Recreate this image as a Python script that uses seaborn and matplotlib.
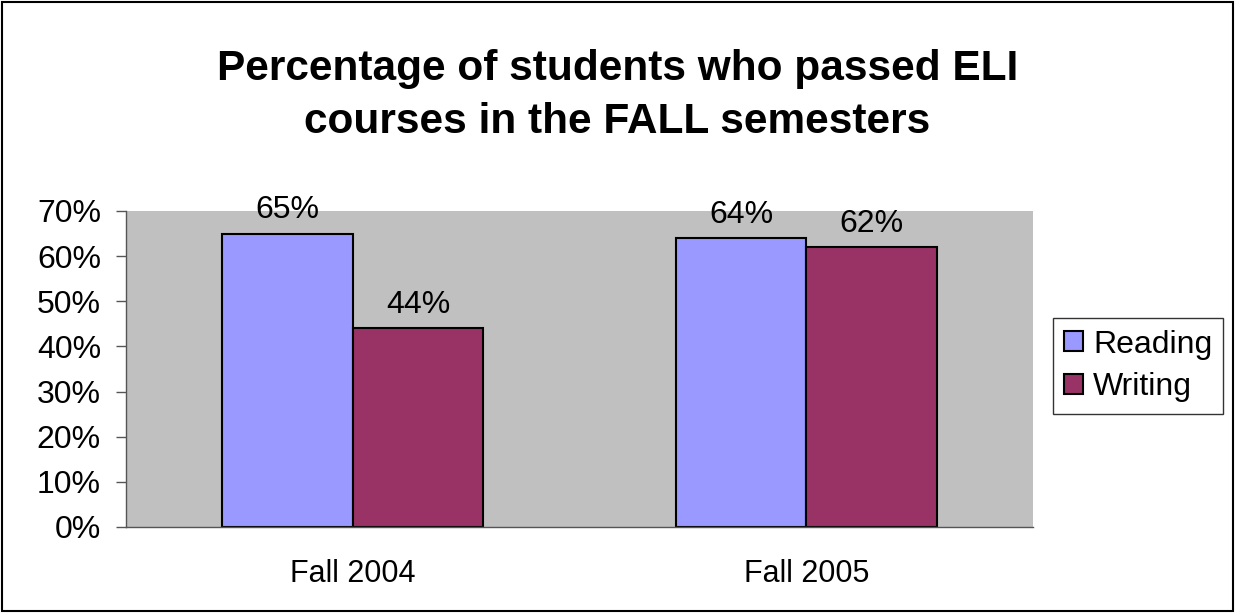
import pandas as pd
import matplotlib.pyplot as plt
import seaborn as sns
from matplotlib.patches import Rectangle

# Values
semesters = ["Fall 2004", "Fall 2005"]
courses = ["Reading", "Writing"]
reading_pct = [65, 64]
writing_pct = [44, 62]
title_lines = ["Percentage of students who passed ELI",
               "courses in the FALL semesters"]

colors = {"Reading": "#9999FF", "Writing": "#993366"}


def main():
    df = pd.DataFrame({
        "semester": semesters * 2,
        "course": ["Reading"] * len(semesters) + ["Writing"] * len(semesters),
        "pct": reading_pct + writing_pct,
    })

    sns.set_style("white")
    plt.rcParams["font.family"] = ["Liberation Sans", "DejaVu Sans"]
    plt.rcParams["text.color"] = "black"
    plt.rcParams["xtick.color"] = "black"
    plt.rcParams["ytick.color"] = "black"

    fig = plt.figure(figsize=(12.35, 6.13), dpi=100)
    fig.patch.set_facecolor("white")
    ax = fig.add_axes([126 / 1235, 86 / 613, 907 / 1235, 316 / 613])

    sns.barplot(data=df, x="semester", y="pct", hue="course",
                hue_order=courses, palette=colors, width=0.576,
                edgecolor="black", linewidth=1.5, saturation=1,
                ax=ax)

    ax.set_facecolor("#C0C0C0")
    ax.set_ylim(0, 70)
    ax.set_xlim(-0.5, 1.5)
    ax.set_yticks(range(0, 71, 10))
    ax.set_yticklabels([f"{v}%" for v in range(0, 71, 10)], fontsize=23)
    ax.set_xticks([0, 1])
    ax.set_xticklabels(semesters, fontsize=22)
    ax.set_xticks([-0.5, 0.5, 1.5], minor=True)
    ax.tick_params(axis="x", which="major", length=0, pad=23)
    ax.tick_params(axis="x", which="minor", length=7, width=1, color="#555555")
    ax.tick_params(axis="y", length=7, width=1, color="#555555", pad=11, left=True)
    ax.set_xlabel("")
    ax.set_ylabel("")

    for side in ["top", "right"]:
        ax.spines[side].set_visible(False)
    for side in ["left", "bottom"]:
        ax.spines[side].set_color("#555555")
        ax.spines[side].set_linewidth(1)

    for cont in ax.containers:
        ax.bar_label(cont, labels=[f"{v:.0f}%" for v in cont.datavalues],
                     padding=6, fontsize=23)

    handles, labels = ax.get_legend_handles_labels()
    ax.legend(handles, labels, loc="center left",
              bbox_to_anchor=(1053 / 1235, 1 - 366 / 613),
              bbox_transform=fig.transFigure,
              fontsize=23, frameon=True, fancybox=False, edgecolor="black",
              handlelength=0.6, handleheight=0.6, handletextpad=0.3,
              borderpad=0.35, labelspacing=0.4, borderaxespad=0)
    ax.get_legend().get_frame().set_linewidth(1)

    # Two title lines placed on their baselines
    for line, base_y in zip(title_lines, [80, 133]):
        fig.text(0.5, 1 - base_y / 613, line, ha="center", va="baseline",
                 fontsize=30.5, fontweight="bold")

    fig.patches.append(Rectangle((0.002, 0.003), 0.996, 0.994,
                                 transform=fig.transFigure, fill=False,
                                 edgecolor="black", linewidth=1.5))

    fig.savefig("out.png", dpi=100)
    plt.close(fig)


if __name__ == "__main__":
    main()
